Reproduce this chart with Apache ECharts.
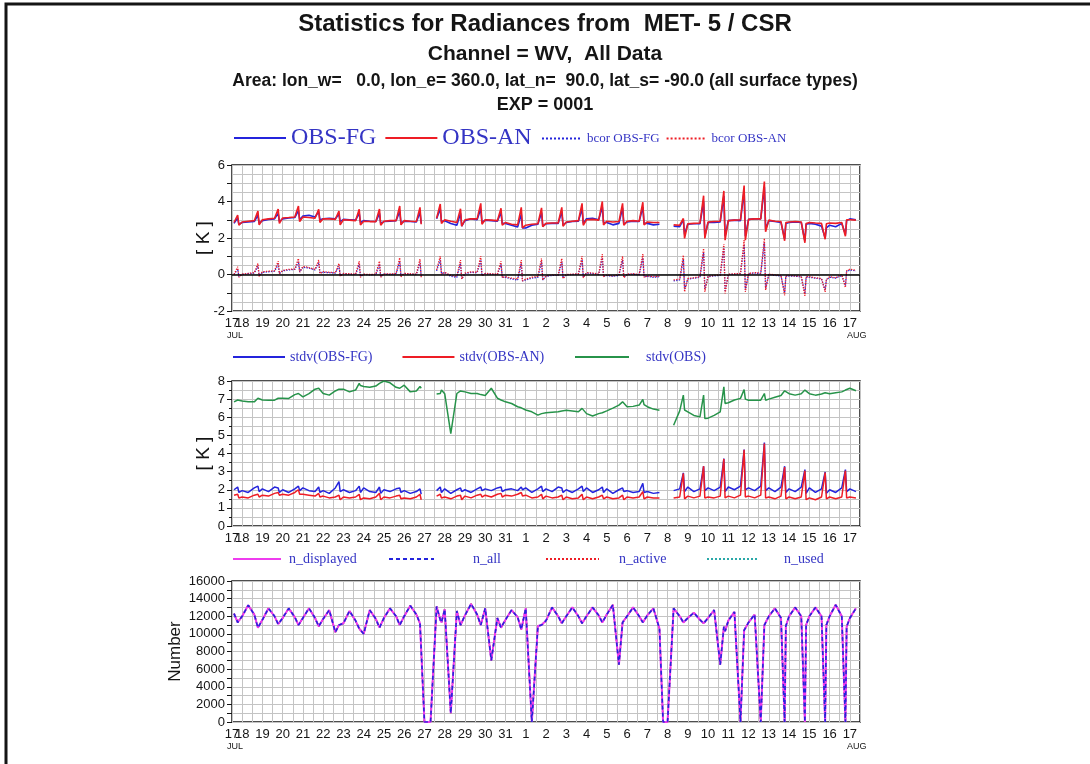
<!DOCTYPE html>
<html>
<head>
<meta charset="utf-8">
<title>Statistics for Radiances from MET-5 / CSR</title>
<script src="https://cdn.jsdelivr.net/npm/echarts@6.0.0/dist/echarts.min.js"></script>
<style>
  html, body { margin: 0; padding: 0; background: #fff; }
  #main { width: 1090px; height: 764px; }
</style>
</head>
<body>
<div id="main"></div>
<script>
// time axis: days after 17 JUL 00Z, samples at these offsets inside each day
const dayOffsets = [0, 0.3, 0.6, 0.78, 0.84];
const dayLabels = ['17', '18', '19', '20', '21', '22', '23', '24', '25', '26', '27', '28', '29', '30', '31',
  '1', '2', '3', '4', '5', '6', '7', '8', '9', '10', '11', '12', '13', '14', '15', '16', '17'];
const monthLabels = { 0: 'JUL', 31: 'AUG' };

// panel 1 [K]  (rows = one day, first row JUL 17 from 12Z, last row AUG 17 to 12Z)
const obsFg = [
  2.80, 3.10, 2.75,
  2.85, 2.88, 2.90, 3.25, 2.80,
  2.95, 3.02, 3.05, 3.35, 2.90,
  3.05, 3.10, 3.12, 3.50, 3.00,
  3.20, 3.25, 3.15, 3.45, 3.00,
  3.05, 3.08, 3.05, 3.30, 2.90,
  3.02, 3.00, 2.98, 3.35, 2.85,
  2.95, 2.92, 2.90, 3.35, 2.80,
  2.90, 2.92, 2.95, 3.45, 2.82,
  2.92, 2.90, 2.88, 3.40, 2.80,
  null, null, 3.05, 3.60, 2.90,
  2.95, 2.80, 2.70, 3.35, 2.65,
  2.95, 3.05, 3.00, 3.60, 2.85,
  2.98, 2.95, 2.92, 3.40, 2.80,
  2.80, 2.70, 2.60, 3.30, 2.55,
  2.55, 2.70, 2.75, 3.40, 2.65,
  2.78, 2.80, 2.80, 3.45, 2.70,
  2.85, 2.90, 2.92, 3.60, 2.80,
  3.05, 3.08, 3.00, 3.70, 2.85,
  2.85, 2.72, 2.80, 3.65, 2.75,
  2.88, 2.92, 2.90, 3.70, 2.80,
  2.80, 2.72, 2.75, null, null,
  null, 2.65, 2.62, 3.00, 2.20,
  2.75, 2.78, 2.78, 4.00, 2.10,
  2.85, 2.85, 2.88, 4.30, 2.10,
  2.95, 2.98, 2.95, 4.60, 2.10,
  3.02, 3.05, 3.05, 4.80, 2.50,
  2.95, 2.90, 2.85, 1.95, 2.80,
  2.85, 2.88, 2.85, 1.85, 2.75,
  2.80, 2.75, 2.65, 2.00, 2.55,
  2.70, 2.62, 2.80, 2.20, 2.95,
  3.05, 3.00
];
const obsAn = [
  2.85, 3.26, 2.70,
  2.88, 2.92, 2.95, 3.48, 2.72,
  3.00, 3.05, 3.08, 3.59, 2.80,
  3.10, 3.12, 3.15, 3.75, 2.90,
  3.15, 3.12, 3.08, 3.57, 2.85,
  3.05, 3.05, 3.02, 3.48, 2.72,
  3.00, 2.98, 2.95, 3.57, 2.72,
  2.92, 2.90, 2.90, 3.59, 2.70,
  2.92, 2.95, 2.95, 3.75, 2.72,
  2.95, 2.92, 2.90, 3.68, 2.75,
  null, null, 3.08, 3.86, 2.80,
  3.00, 2.92, 2.85, 3.60, 2.65,
  3.00, 3.05, 3.05, 3.90, 2.75,
  3.00, 2.98, 2.95, 3.63, 2.70,
  2.85, 2.75, 2.72, 3.68, 2.55,
  2.70, 2.75, 2.78, 3.65, 2.62,
  2.80, 2.82, 2.82, 3.68, 2.65,
  2.88, 2.92, 2.95, 3.90, 2.70,
  3.00, 3.02, 2.98, 4.00, 2.72,
  2.92, 2.88, 2.90, 3.90, 2.70,
  2.92, 2.95, 2.92, 3.96, 2.72,
  2.88, 2.85, 2.85, null, null,
  null, 2.72, 2.70, 3.07, 1.98,
  2.78, 2.80, 2.82, 4.32, 1.98,
  2.88, 2.90, 2.92, 4.58, 1.88,
  2.95, 2.98, 3.00, 4.87, 1.88,
  3.02, 3.05, 3.05, 5.09, 2.34,
  2.98, 2.92, 2.90, 1.85, 2.85,
  2.88, 2.90, 2.88, 1.74, 2.80,
  2.85, 2.82, 2.80, 1.93, 2.78,
  2.82, 2.80, 2.85, 2.10, 3.00,
  3.00, 2.98
];
const bcorFg = [
  0.00, 0.30, -0.10,
  0.00, 0.05, 0.08, 0.45, -0.05,
  0.12, 0.15, 0.18, 0.55, 0.05,
  0.20, 0.25, 0.28, 0.70, 0.15,
  0.40, 0.35, 0.25, 0.65, 0.10,
  0.12, 0.10, 0.08, 0.45, -0.05,
  0.05, 0.02, 0.00, 0.55, -0.10,
  0.00, -0.02, 0.00, 0.55, -0.12,
  0.02, 0.00, 0.03, 0.70, -0.08,
  0.05, 0.02, 0.00, 0.65, -0.10,
  null, null, 0.20, 0.80, 0.05,
  0.10, -0.10, -0.15, 0.60, -0.25,
  0.05, 0.12, 0.10, 0.80, -0.05,
  0.05, 0.02, 0.00, 0.55, -0.15,
  -0.15, -0.25, -0.30, 0.60, -0.35,
  -0.30, -0.20, -0.15, 0.70, -0.30,
  -0.10, -0.05, -0.05, 0.70, -0.20,
  -0.02, 0.00, 0.02, 0.80, -0.15,
  0.08, 0.05, 0.00, 0.90, -0.10,
  -0.05, -0.10, -0.05, 0.80, -0.15,
  0.00, 0.02, -0.02, 0.90, -0.12,
  -0.10, -0.15, -0.12, null, null,
  null, -0.35, -0.30, 0.85, -0.80,
  -0.25, -0.20, -0.15, 1.20, -0.80,
  -0.12, -0.08, -0.05, 1.45, -0.90,
  0.00, 0.02, 0.05, 1.65, -0.85,
  0.05, 0.08, 0.05, 1.75, -0.75,
  0.00, -0.05, -0.08, -1.00, -0.10,
  -0.08, -0.10, -0.12, -1.05, -0.15,
  -0.15, -0.20, -0.25, -0.85, -0.30,
  -0.15, -0.20, -0.05, -0.60, 0.15,
  0.25, 0.20
];
const bcorAn = [
  0.00, 0.42, -0.15,
  0.02, 0.06, 0.10, 0.60, -0.10,
  0.15, 0.18, 0.20, 0.73, 0.05,
  0.22, 0.28, 0.30, 0.88, 0.12,
  0.45, 0.38, 0.28, 0.79, 0.05,
  0.15, 0.12, 0.10, 0.60, -0.10,
  0.06, 0.04, 0.02, 0.73, -0.15,
  0.02, 0.00, 0.02, 0.73, -0.15,
  0.04, 0.03, 0.05, 0.92, -0.12,
  0.06, 0.04, 0.02, 0.84, -0.15,
  null, null, 0.25, 1.00, 0.02,
  0.12, -0.05, -0.10, 0.79, -0.25,
  0.08, 0.15, 0.12, 1.00, -0.08,
  0.06, 0.04, 0.02, 0.73, -0.18,
  -0.12, -0.20, -0.25, 0.79, -0.35,
  -0.25, -0.15, -0.10, 0.88, -0.30,
  -0.08, -0.02, -0.02, 0.88, -0.22,
  0.00, 0.02, 0.04, 1.00, -0.18,
  0.10, 0.08, 0.02, 1.12, -0.12,
  -0.02, -0.08, -0.02, 1.00, -0.18,
  0.02, 0.04, 0.00, 1.12, -0.15,
  -0.08, -0.12, -0.10, null, null,
  null, -0.30, -0.25, 1.06, -0.95,
  -0.22, -0.18, -0.12, 1.43, -0.95,
  -0.10, -0.05, -0.02, 1.67, -1.04,
  0.02, 0.04, 0.06, 1.89, -0.95,
  0.06, 0.10, 0.08, 1.98, -0.86,
  0.02, -0.02, -0.05, -1.14, -0.08,
  -0.05, -0.08, -0.10, -1.17, -0.12,
  -0.12, -0.18, -0.22, -0.95, -0.28,
  -0.12, -0.18, 0.00, -0.71, 0.20,
  0.30, 0.22
];

// panel 2 [K]
const stdvFg = [
  2.00, 2.15, 1.85,
  1.95, 1.85, 2.10, 2.20, 1.90,
  2.05, 1.90, 2.15, 2.10, 1.85,
  2.00, 1.85, 2.05, 2.20, 1.95,
  2.10, 1.95, 1.90, 2.15, 1.85,
  1.95, 1.80, 2.10, 2.45, 1.90,
  2.00, 1.85, 1.95, 2.20, 1.85,
  2.10, 1.90, 1.85, 2.15, 1.80,
  2.00, 1.90, 2.05, 2.10, 1.85,
  1.95, 1.80, 1.90, 2.05, 1.75,
  null, null, 1.95, 2.15, 1.85,
  2.05, 1.80, 2.00, 2.10, 1.90,
  2.00, 1.85, 2.05, 2.15, 1.95,
  2.05, 1.95, 2.10, 2.15, 1.90,
  2.00, 2.05, 1.95, 2.15, 2.00,
  2.10, 1.85, 2.05, 2.20, 1.90,
  2.05, 1.90, 2.15, 2.10, 1.85,
  2.00, 1.85, 2.05, 2.20, 1.90,
  2.10, 1.85, 2.00, 2.15, 1.85,
  2.05, 1.80, 2.00, 2.10, 1.90,
  1.95, 1.85, 1.90, 2.35, 1.85,
  1.90, 1.80, 1.85, null, null,
  null, 1.95, 2.05, 2.93, 1.90,
  2.15, 1.90, 2.05, 3.30, 1.95,
  2.10, 1.95, 2.15, 3.72, 1.90,
  2.15, 2.00, 2.20, 4.22, 2.00,
  2.10, 1.95, 2.20, 4.60, 1.95,
  2.10, 1.90, 2.15, 3.30, 1.85,
  2.05, 1.90, 2.15, 3.11, 1.80,
  2.10, 1.85, 2.05, 2.98, 1.80,
  2.00, 1.85, 2.10, 3.11, 1.90,
  2.05, 1.90
];
const stdvAn = [
  1.70, 1.75, 1.55,
  1.60, 1.55, 1.70, 1.75, 1.60,
  1.70, 1.65, 1.80, 1.85, 1.70,
  1.75, 1.70, 1.85, 2.00, 1.75,
  1.75, 1.70, 1.65, 1.80, 1.60,
  1.65, 1.55, 1.60, 1.70, 1.45,
  1.60, 1.55, 1.60, 1.75, 1.45,
  1.55, 1.50, 1.60, 1.80, 1.45,
  1.60, 1.55, 1.65, 1.70, 1.50,
  1.55, 1.50, 1.60, 1.75, 1.45,
  null, null, 1.65, 1.75, 1.55,
  1.60, 1.50, 1.65, 1.70, 1.45,
  1.65, 1.55, 1.70, 1.75, 1.60,
  1.70, 1.60, 1.75, 1.80, 1.60,
  1.70, 1.65, 1.75, 1.85, 1.65,
  1.70, 1.55, 1.60, 1.75, 1.50,
  1.65, 1.55, 1.60, 1.70, 1.45,
  1.60, 1.50, 1.55, 1.75, 1.45,
  1.60, 1.50, 1.60, 1.70, 1.50,
  1.60, 1.50, 1.55, 1.70, 1.45,
  1.60, 1.55, 1.60, 1.90, 1.50,
  1.60, 1.55, 1.55, null, null,
  null, 1.55, 1.60, 2.90, 1.50,
  1.65, 1.55, 1.65, 3.30, 1.55,
  1.60, 1.55, 1.65, 3.70, 1.55,
  1.65, 1.55, 1.70, 4.20, 1.60,
  1.65, 1.55, 1.70, 4.55, 1.55,
  1.60, 1.50, 1.65, 3.25, 1.50,
  1.60, 1.50, 1.60, 3.05, 1.45,
  1.55, 1.45, 1.60, 2.95, 1.50,
  1.60, 1.50, 1.60, 3.05, 1.55,
  1.60, 1.55
];
const stdvObs = [
  6.85, 6.95, 7.04,
  6.90, 6.85, 6.85, 7.05, 7.12,
  6.95, 6.94, 6.94, 7.05, 7.12,
  7.05, 7.04, 7.25, 7.31, 7.20,
  7.12, 7.30, 7.55, 7.60, 7.50,
  7.31, 7.22, 7.45, 7.55, 7.60,
  7.55, 7.40, 7.50, 7.87, 7.75,
  7.70, 7.65, 7.72, 7.87, 7.80,
  8.00, 7.90, 7.65, 7.60, 7.60,
  7.77, 7.40, 7.45, 7.70, 7.60,
  null, null, 7.28, 7.31, 7.50,
  7.30, 5.10, 7.31, 7.45, 7.50,
  7.40, 7.31, 7.31, 7.25, 7.22,
  7.20, 7.60, 7.05, 6.95, 6.94,
  6.85, 6.76, 6.58, 6.52, 6.49,
  6.40, 6.30, 6.12, 6.20, 6.22,
  6.25, 6.28, 6.30, 6.35, 6.30,
  6.39, 6.35, 6.30, 6.49, 6.40,
  6.20, 6.07, 6.20, 6.25, 6.30,
  6.35, 6.50, 6.67, 6.85, 6.75,
  6.58, 6.60, 6.67, 6.98, 6.70,
  6.58, 6.45, 6.39, null, null,
  null, 5.56, 6.35, 7.22, 6.40,
  6.30, 6.10, 6.02, 7.22, 5.93,
  5.95, 6.10, 6.30, 7.68, 6.76,
  6.80, 6.95, 7.04, 7.53, 7.00,
  6.94, 6.94, 6.94, 7.31, 6.94,
  7.00, 7.10, 7.20, 7.46, 7.35,
  7.30, 7.22, 7.30, 7.50, 7.40,
  7.30, 7.22, 7.28, 7.35, 7.30,
  7.30, 7.35, 7.40, 7.50, 7.55,
  7.60, 7.46
];

// panel 3 Number (n_displayed, n_all, n_active and n_used coincide)
const nObs = [
  12300, 11300, 11250,
  12000, 13250, 12200, 10700, 10500,
  11600, 12900, 12000, 11100, 11000,
  11800, 12900, 11900, 11000, 10900,
  11800, 12900, 11800, 10850, 10800,
  11700, 12700, 10200, 11000, 11000,
  11200, 12600, 11500, 10600, 10700,
  10000, 12700, 11700, 10700, 10600,
  11800, 12900, 12000, 11000, 11000,
  12000, 13200, 12200, 11200, 11000,
  0, 0, 13100, 11600, 11300,
  12800, 1000, 12600, 11000, 10900,
  12100, 13400, 12200, 11000, 10900,
  12900, 7000, 11800, 10700, 10600,
  11600, 12700, 11900, 10500, 10300,
  12900, 0, 10900, 11000, 11000,
  11500, 13000, 12000, 11200, 11200,
  12000, 13000, 12000, 11200, 11200,
  12000, 13000, 12100, 11300, 11300,
  12200, 13300, 6500, 11300, 11400,
  12000, 13000, 12000, 11300, 11300,
  12100, 12900, 10600, 0, 0,
  0, 12900, 12000, 11300, 11300,
  11800, 12400, 11600, 11200, 11200,
  11800, 12700, 6500, 10800, 10300,
  11500, 12500, 0, 10400, 10600,
  11300, 12200, 0, 11000, 11100,
  12000, 12900, 11800, 0, 10900,
  12000, 13000, 12000, 0, 11000,
  12000, 13000, 12000, 0, 11000,
  12000, 13300, 12000, 0, 10800,
  11800, 12900
];

const times = [];
for (let d = 0; d <= 31; d++) {
  dayOffsets.forEach(o => {
    const t = Math.round((d + o) * 100) / 100;
    if (t >= 0.5 && t <= 31.5) times.push(t);
  });
}

function pairs(values, label) {
  if (values.length !== times.length) throw new Error(label + ': ' + values.length + ' values for ' + times.length + ' times');
  return times.map((t, i) => [t, values[i]]);
}

const BLUE = '#2424dc';
const RED = '#ee1d25';
const GREEN = '#27934a';
const MAGENTA = '#ee3cee';
const TEAL = '#2aa8a8';
const LEGEND_TEXT = '#3434c4';
const GRID = '#c4c4c4';
const INK = '#151515';
const SANS = '"Liberation Sans", Arial, sans-serif';
const SERIF = '"Liberation Serif", "Times New Roman", serif';

const chart = echarts.init(document.getElementById('main'), null, { renderer: 'canvas' });

const labelRich = {
  d: { fontFamily: SANS, fontSize: 13, color: INK, lineHeight: 14 },
  m: { fontFamily: SANS, fontSize: 9, color: INK, lineHeight: 12, padding: [0, 0, 0, 6] },
  a: { fontFamily: SANS, fontSize: 9, color: INK, lineHeight: 12, padding: [0, 0, 0, 14] }
};

// day labels on whole days; the first day label sits on a second axis so both
// "17" and "18" stay visible although they overlap, as in the original
function dayLabel(withMonth) {
  return v => {
    if (Math.abs(v - Math.round(v)) > 1e-6) return '';
    const idx = Math.round(v);
    if (idx < 1 || idx > 31) return '';
    const month = withMonth ? monthLabels[idx] : null;
    return '{d|' + dayLabels[idx] + '}' + (month ? '\n{a|' + month + '}' : '');
  };
}
function startLabel(withMonth) {
  return v => (Math.abs(v - 0.5) < 1e-6 ? '{d|' + dayLabels[0] + '}' + (withMonth ? '\n{m|' + monthLabels[0] + '}' : '') : '');
}

function xAxis(gridIndex, formatter, grid) {
  return {
    type: 'value', gridIndex: gridIndex, position: 'bottom', min: 0.5, max: 31.5, interval: 0.5,
    axisLine: { show: false }, axisTick: { show: false },
    splitLine: { show: grid, lineStyle: { color: GRID, width: 1 } },
    axisLabel: { margin: 5, formatter: formatter, rich: labelRich }
  };
}

function yAxis(gridIndex, cfg) {
  return Object.assign({
    type: 'value', gridIndex: gridIndex,
    axisLine: { show: false },
    axisTick: { show: true, length: 5, lineStyle: { color: INK } },
    axisLabel: { fontFamily: SANS, fontSize: 13, color: INK, margin: 7 },
    splitLine: { show: true, lineStyle: { color: GRID, width: 1 } },
    nameLocation: 'middle', nameMoveOverlap: false,
    nameTextStyle: { fontFamily: SANS, color: INK }
  }, cfg);
}

function line(name, g, values, color, width, type, extra) {
  return Object.assign({
    name: name, type: 'line', xAxisIndex: g, yAxisIndex: g,
    data: pairs(values, name), showSymbol: false, symbol: 'none',
    connectNulls: false, animation: false,
    itemStyle: { color: color },
    lineStyle: { color: color, width: width, type: type }
  }, extra || {});
}

const legendBase = {
  padding: 0, itemHeight: 12, selectedMode: false,
  itemStyle: { opacity: 0 },
  textStyle: { fontFamily: SERIF, color: LEGEND_TEXT, fontSize: 14 }
};

function legendAt(left, top, itemWidth, name, pad) {
  return Object.assign({}, legendBase, {
    left: left, top: top, itemWidth: itemWidth, data: [name],
    formatter: n => '{p| }{t|' + n + '}',
    textStyle: {
      fontFamily: SERIF, color: LEGEND_TEXT, fontSize: 14,
      rich: {
        p: { width: pad, fontSize: 14 },
        t: { fontFamily: SERIF, color: LEGEND_TEXT, fontSize: 14 }
      }
    }
  });
}

const option = {
  backgroundColor: '#ffffff',
  animation: false,
  title: [
    { text: 'Statistics for Radiances from  MET- 5 / CSR', left: 'center', top: 7,
      textStyle: { fontFamily: SANS, fontWeight: 'bold', fontSize: 24, color: INK } },
    { text: 'Channel = WV,  All Data', left: 'center', top: 39,
      textStyle: { fontFamily: SANS, fontWeight: 'bold', fontSize: 21, color: INK } },
    { text: 'Area: lon_w=   0.0, lon_e= 360.0, lat_n=  90.0, lat_s= -90.0 (all surface types)', left: 'center', top: 67,
      textStyle: { fontFamily: SANS, fontWeight: 'bold', fontSize: 17.5, color: INK } },
    { text: 'EXP = 0001', left: 'center', top: 91,
      textStyle: { fontFamily: SANS, fontWeight: 'bold', fontSize: 18, color: INK } }
  ],
  legend: [
    Object.assign({}, legendBase, {
      left: 233, top: 126, itemWidth: 52, itemGap: 8,
      textStyle: { fontFamily: SERIF, color: LEGEND_TEXT, fontSize: 24 },
      data: ['OBS-FG', 'OBS-AN']
    }),
    Object.assign({}, legendBase, {
      left: 541, top: 132, itemWidth: 40, itemGap: 6,
      textStyle: { fontFamily: SERIF, color: LEGEND_TEXT, fontSize: 13 },
      data: ['bcor OBS-FG', 'bcor OBS-AN']
    }),
    Object.assign({}, legendBase, {
      left: 232, top: 350, itemWidth: 52, itemGap: 29,
      data: ['stdv(OBS-FG)', 'stdv(OBS-AN)']
    }),
    legendAt(574, 350, 54, 'stdv(OBS)', 12),
    legendAt(232, 552, 48, 'n_displayed', 3),
    legendAt(388, 552, 45, 'n_all', 34),
    legendAt(545, 552, 53, 'n_active', 15),
    legendAt(706, 552, 52, 'n_used', 20)
  ],
  grid: [
    { left: 232, top: 165, width: 628, height: 146, show: true, borderColor: INK, borderWidth: 1.5 },
    { left: 232, top: 381, width: 628, height: 145, show: true, borderColor: INK, borderWidth: 1.5 },
    { left: 232, top: 581, width: 628, height: 141, show: true, borderColor: INK, borderWidth: 1.5 }
  ],
  xAxis: [
    xAxis(0, dayLabel(true), true),
    xAxis(1, dayLabel(false), true),
    xAxis(2, dayLabel(true), true),
    xAxis(0, startLabel(true), false),
    xAxis(1, startLabel(false), false),
    xAxis(2, startLabel(true), false)
  ],
  yAxis: [
    yAxis(0, {
      min: -2, max: 6, interval: 1,
      axisLabel: { fontFamily: SANS, fontSize: 13, color: INK, margin: 7, formatter: v => (v % 2 === 0 ? String(v) : '') },
      minorTick: { show: false, splitNumber: 2 },
      minorSplitLine: { show: true, lineStyle: { color: GRID, width: 1 } },
      name: '[ K ]', nameGap: 19, nameTextStyle: { fontFamily: SANS, color: INK, fontSize: 19 }
    }),
    yAxis(1, {
      min: 0, max: 8, interval: 1,
      minorTick: { show: true, splitNumber: 2, length: 3, lineStyle: { color: INK } },
      minorSplitLine: { show: true, lineStyle: { color: GRID, width: 1 } },
      name: '[ K ]', nameGap: 19, nameTextStyle: { fontFamily: SANS, color: INK, fontSize: 19 }
    }),
    yAxis(2, {
      min: 0, max: 16000, interval: 1000,
      axisLabel: { fontFamily: SANS, fontSize: 13, color: INK, margin: 7, formatter: v => (v % 2000 === 0 ? String(v) : '') },
      name: 'Number', nameGap: 48, nameTextStyle: { fontFamily: SANS, color: INK, fontSize: 17 }
    })
  ],
  graphic: [
    { type: 'polyline', silent: true, z: 100,
      shape: { points: [[6, 764], [6, 4], [1090, 4]] },
      style: { stroke: INK, lineWidth: 3, fill: null } }
  ],
  series: [
    line('bcor OBS-FG', 0, bcorFg, BLUE, 1.3, 'dotted'),
    line('bcor OBS-AN', 0, bcorAn, RED, 1.3, 'dotted', {
      markLine: { silent: true, symbol: 'none', label: { show: false },
        lineStyle: { color: '#000', width: 1.5, type: 'solid' }, data: [{ yAxis: 0 }] }
    }),
    line('OBS-FG', 0, obsFg, BLUE, 1.6, 'solid'),
    line('OBS-AN', 0, obsAn, RED, 1.6, 'solid'),
    line('stdv(OBS-FG)', 1, stdvFg, BLUE, 1.5, 'solid'),
    line('stdv(OBS-AN)', 1, stdvAn, RED, 1.5, 'solid'),
    line('stdv(OBS)', 1, stdvObs, GREEN, 1.5, 'solid'),
    line('n_used', 2, nObs, TEAL, 1.5, 'dotted'),
    line('n_active', 2, nObs, RED, 1.5, 'dotted'),
    line('n_displayed', 2, nObs, MAGENTA, 2, 'solid'),
    line('n_all', 2, nObs, BLUE, 1.6, [4, 3])
  ]
};

chart.setOption(option);
</script>
</body>
</html>
